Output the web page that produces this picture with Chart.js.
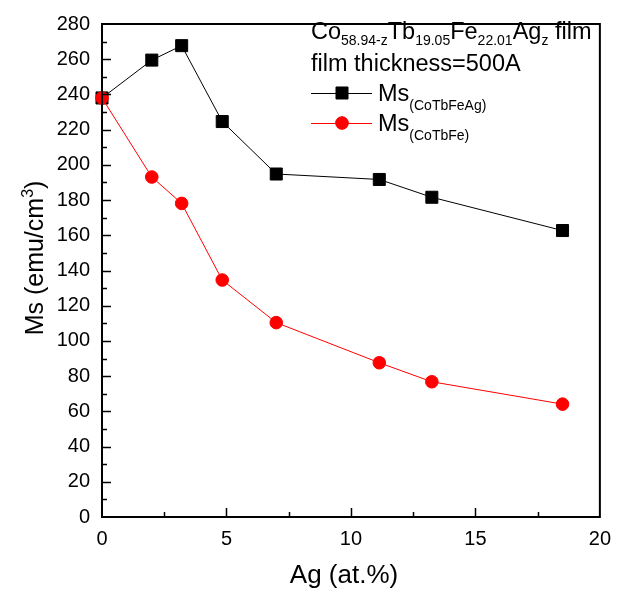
<!DOCTYPE html>
<html>
<head>
<meta charset="utf-8">
<script src="https://cdn.jsdelivr.net/npm/chart.js@4/dist/chart.umd.min.js"></script>
<style>
  html, body { margin: 0; padding: 0; background: #ffffff; }
  #wrap { width: 621px; height: 594px; }
</style>
</head>
<body>
<div id="wrap"><canvas id="chart" width="621" height="594"></canvas></div>
<script>
// Ag content (at.%) of each film
const agContent = [0, 2, 3.2, 4.83, 7, 11.14, 13.25, 18.5];
// Saturation magnetisation, emu/cm^3
const msCoTbFeAg = [238, 259.5, 267.7, 224.6, 194.8, 191.7, 181.6, 162.7];
const msCoTbFe   = [238, 193.1, 178.1, 134.6, 110.4, 87.6, 76.8, 64.1];
// Axis ranges and tick steps
const xRange = [0, 20], xMajor = 5, xMinor = 2.5;
const yRange = [0, 280], yMajor = 20, yMinor = 10;

const FONT = '"Liberation Sans", Arial, Helvetica, sans-serif';

function toPoints(xs, ys) { return xs.map((x, i) => ({ x: x, y: ys[i] })); }

// Text with sub/superscripts: parts are [text, shift] where shift is
// 0 for normal text, 1 for subscript, -1 for superscript
function richWidth(ctx, parts, size, subSize) {
  let w = 0;
  for (const [txt, s] of parts) {
    ctx.font = (s ? subSize : size) + 'px ' + FONT;
    w += ctx.measureText(txt).width;
  }
  return w;
}
function drawRich(ctx, parts, x, y, size, subSize, subDrop, supRise) {
  let cx = x;
  for (const [txt, s] of parts) {
    ctx.font = (s ? subSize : size) + 'px ' + FONT;
    const dy = s === 1 ? subDrop : (s === -1 ? -supRise : 0);
    ctx.fillText(txt, cx, y + dy);
    cx += ctx.measureText(txt).width;
  }
  return cx;
}

const frameAndLegend = {
  id: 'frameAndLegend',
  afterDatasetsDraw(chart) {
    const ctx = chart.ctx;
    const a = chart.chartArea;
    const xs = chart.scales.x, ys = chart.scales.y;
    ctx.save();
    ctx.strokeStyle = '#000';
    // inward ticks on bottom and left axes
    ctx.lineWidth = 1.5;
    ctx.beginPath();
    for (let v = xRange[0] + xMinor; v < xRange[1]; v += xMinor) {
      const p = Math.round(xs.getPixelForValue(v)) + 0.5;
      const len = (Math.abs(v / xMajor - Math.round(v / xMajor)) < 1e-6) ? 9 : 5;
      ctx.moveTo(p, a.bottom); ctx.lineTo(p, a.bottom - len);
    }
    for (let v = yRange[0] + yMinor; v < yRange[1]; v += yMinor) {
      const p = Math.round(ys.getPixelForValue(v)) + 0.5;
      const len = (Math.abs(v / yMajor - Math.round(v / yMajor)) < 1e-6) ? 9 : 5;
      ctx.moveTo(a.left, p); ctx.lineTo(a.left + len, p);
    }
    ctx.stroke();
    // frame
    ctx.lineWidth = 2;
    ctx.strokeRect(a.left, a.top, a.right - a.left, a.bottom - a.top);

    ctx.fillStyle = '#000';
    ctx.textBaseline = 'alphabetic';
    ctx.textAlign = 'left';

    // axis titles
    const xTitle = [['Ag (at.%)', 0]];
    const xw = richWidth(ctx, xTitle, 26, 16);
    drawRich(ctx, xTitle, 344 - xw / 2, 583, 26, 16, 0, 0);
    const yTitle = [['Ms (emu/cm', 0], ['3', -1], [')', 0]];
    const yw = richWidth(ctx, yTitle, 25, 16);
    ctx.save();
    ctx.translate(43, 258);
    ctx.rotate(-Math.PI / 2);
    drawRich(ctx, yTitle, -yw / 2, 0, 25, 16, 0, 10);
    ctx.restore();

    // legend block
    drawRich(ctx, [['Co', 0], ['58.94-z', 1], ['Tb', 0], ['19.05', 1], ['Fe', 0], ['22.01', 1], ['Ag', 0], ['z', 1], [' film', 0]], 311, 39, 23.5, 14, 6, 0);
    drawRich(ctx, [['film thickness=500A', 0]], 311, 71, 23.5, 14, 6, 0);

    const entries = [
      { ds: chart.data.datasets[0], y: 93, label: [['Ms', 0], ['(CoTbFeAg)', 1]] },
      { ds: chart.data.datasets[1], y: 123, label: [['Ms', 0], ['(CoTbFe)', 1]] }
    ];
    for (const e of entries) {
      ctx.strokeStyle = e.ds.borderColor;
      ctx.lineWidth = 1;
      ctx.beginPath();
      ctx.moveTo(311, e.y + 0.5); ctx.lineTo(372, e.y + 0.5);
      ctx.stroke();
      ctx.fillStyle = e.ds.pointBackgroundColor;
      ctx.strokeStyle = e.ds.pointBorderColor;
      Chart.helpers.drawPoint(ctx, { pointStyle: e.ds.pointStyle, radius: e.ds.pointRadius, borderWidth: 1 }, 342, e.y);
      ctx.fill();
      ctx.fillStyle = '#000';
      drawRich(ctx, e.label, 378, e.y + 8, 23.5, 14, 9, 0);
    }
    ctx.restore();
  }
};

new Chart(document.getElementById('chart'), {
  type: 'line',
  data: {
    datasets: [
      {
        label: 'Ms(CoTbFeAg)',
        data: toPoints(agContent, msCoTbFeAg),
        borderColor: '#000000',
        borderWidth: 1,
        pointStyle: 'rect',
        pointRadius: 8.5,
        pointBackgroundColor: '#000000',
        pointBorderColor: '#000000',
        pointBorderWidth: 1,
        order: 1,
        clip: false
      },
      {
        label: 'Ms(CoTbFe)',
        data: toPoints(agContent, msCoTbFe),
        borderColor: '#ff0000',
        borderWidth: 1,
        pointStyle: 'circle',
        pointRadius: 6.3,
        pointBackgroundColor: '#ff0000',
        pointBorderColor: '#ff0000',
        pointBorderWidth: 1,
        order: 0,
        clip: false
      }
    ]
  },
  options: {
    responsive: false,
    animation: false,
    layout: { padding: { top: 15, right: 21, left: 0, bottom: 0 } },
    plugins: { legend: { display: false }, tooltip: { enabled: false } },
    scales: {
      x: {
        type: 'linear',
        min: xRange[0], max: xRange[1],
        grid: { display: false, drawTicks: false },
        border: { display: false },
        ticks: { stepSize: xMajor, color: '#000', padding: 10, font: { family: FONT, size: 20 } },
        afterFit(s) { s.height = 77; }
      },
      y: {
        type: 'linear',
        min: yRange[0], max: yRange[1],
        grid: { display: false, drawTicks: false },
        border: { display: false },
        ticks: { stepSize: yMajor, color: '#000', padding: 12, font: { family: FONT, size: 20 } },
        afterFit(s) { s.width = 102; }
      }
    }
  },
  plugins: [frameAndLegend]
});
</script>
</body>
</html>
